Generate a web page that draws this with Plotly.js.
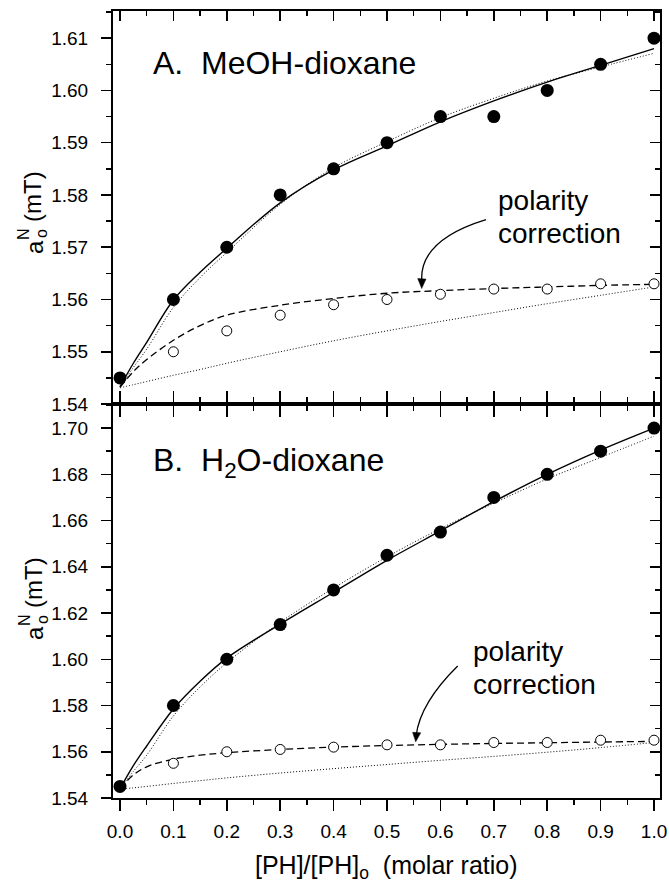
<!DOCTYPE html>
<html><head><meta charset="utf-8">
<script src="https://cdn.plot.ly/plotly-3.0.1.min.js"></script>
<style>html,body{margin:0;padding:0;background:#fff;} #chart{width:669px;height:882px;}</style>
</head><body><div id="chart"></div>
<script>
// ---------- data ----------
const xPoints = [0, 0.1, 0.2, 0.3, 0.4, 0.5, 0.6, 0.7, 0.8, 0.9, 1.0];
const xOpen = [0.1, 0.2, 0.3, 0.4, 0.5, 0.6, 0.7, 0.8, 0.9, 1.0];
const xCurve = [0, 0.025, 0.05, 0.1, 0.15, 0.2, 0.3, 0.4, 0.5, 0.6, 0.7, 0.8, 0.9, 1.0];

// Panel A: MeOH-dioxane
const filledA = [1.545, 1.560, 1.570, 1.580, 1.585, 1.590, 1.595, 1.595, 1.600, 1.605, 1.610];
const openA = [1.550, 1.554, 1.557, 1.559, 1.560, 1.561, 1.562, 1.562, 1.563, 1.563];
const solidA = [1.5433, 1.5478, 1.5518, 1.5599, 1.5652, 1.5698, 1.5785, 1.5848, 1.5894, 1.5940, 1.5980, 1.6016, 1.6048, 1.6080];
const dotUpA = [1.5433, 1.5470, 1.5505, 1.5585, 1.5642, 1.5690, 1.5782, 1.5852, 1.5902, 1.5948, 1.5985, 1.6018, 1.6045, 1.6071];
const dashA = [1.5432, 1.5462, 1.5485, 1.5522, 1.5550, 1.5570, 1.5589, 1.5602, 1.5612, 1.5617, 1.5621, 1.5624, 1.5627, 1.5629];
const dotLowA = [1.5431, 1.5437, 1.5443, 1.5455, 1.5466, 1.5478, 1.5500, 1.5521, 1.5540, 1.5558, 1.5575, 1.5592, 1.5608, 1.5624];

// Panel B: H2O-dioxane
const filledB = [1.545, 1.580, 1.600, 1.615, 1.630, 1.645, 1.655, 1.670, 1.680, 1.690, 1.700];
const openB = [1.555, 1.560, 1.561, 1.562, 1.563, 1.563, 1.564, 1.564, 1.565, 1.565];
const solidB = [1.5440, 1.5540, 1.5625, 1.5785, 1.5905, 1.6005, 1.6152, 1.6290, 1.6428, 1.6555, 1.6682, 1.6800, 1.6905, 1.7000];
const dotUpB = [1.5440, 1.5515, 1.5585, 1.5755, 1.5880, 1.5985, 1.6160, 1.6308, 1.6443, 1.6565, 1.6675, 1.6780, 1.6873, 1.6965];
const dashB = [1.5440, 1.5500, 1.5535, 1.5568, 1.5585, 1.5596, 1.5610, 1.5620, 1.5627, 1.5632, 1.5636, 1.5639, 1.5642, 1.5645];
const dotLowB = [1.5438, 1.5444, 1.5450, 1.5463, 1.5475, 1.5487, 1.5508, 1.5527, 1.5545, 1.5563, 1.5580, 1.5598, 1.5618, 1.5640];

const xTickVals = [0, 0.1, 0.2, 0.3, 0.4, 0.5, 0.6, 0.7, 0.8, 0.9, 1.0];
const labelA = "A.  MeOH-dioxane";
const labelB = "B.  H<sub>2</sub>O-dioxane";
const noteLine1 = "polarity";
const noteLine2 = "correction";
const xTitle = "[PH]/[PH]<sub>o</sub>  (molar ratio)";

// ---------- styling ----------
const FONT = "Liberation Sans, Arial, Helvetica, sans-serif";
const W = 669, H = 882, ML = 113, MR = 9, MT = 11, MB = 84;
const PW = W - ML - MR, PH = H - MT - MB;
const px2x = p => (p - ML) / PW;
const py2y = p => (H - MB - p) / PH;
const split = 0.5006;
const xRange = [-0.0131, 1.0112];

function lineTrace(x, y, xa, ya, dash, width) {
  return {x: x, y: y, xaxis: xa, yaxis: ya, mode: 'lines', hoverinfo: 'skip',
    line: {color: '#000', width: width, dash: dash, shape: 'spline', smoothing: 1}};
}
function markerTrace(x, y, xa, ya, filled) {
  return {x: x, y: y, xaxis: xa, yaxis: ya, mode: 'markers', cliponaxis: false, hoverinfo: 'skip',
    marker: filled ? {symbol: 'circle', size: 13, color: '#000', line: {width: 0}}
                   : {symbol: 'circle', size: 10, color: '#fff', line: {color: '#000', width: 1}}};
}
const dotDash = '1px,2px';
const dashDash = '7px,4px';

const traces = [
  lineTrace(xCurve, dotLowA, 'x', 'y', dotDash, 1),
  lineTrace(xCurve, dashA, 'x', 'y', dashDash, 1.3),
  lineTrace(xCurve, dotUpA, 'x', 'y', dotDash, 1),
  lineTrace(xCurve, solidA, 'x', 'y', 'solid', 1.4),
  markerTrace(xOpen, openA, 'x', 'y', false),
  markerTrace(xPoints, filledA, 'x', 'y', true),
  lineTrace(xCurve, dotLowB, 'x2', 'y2', dotDash, 1),
  lineTrace(xCurve, dashB, 'x2', 'y2', dashDash, 1.3),
  lineTrace(xCurve, dotUpB, 'x2', 'y2', dotDash, 1),
  lineTrace(xCurve, solidB, 'x2', 'y2', 'solid', 1.4),
  markerTrace(xOpen, openB, 'x2', 'y2', false),
  markerTrace(xPoints, filledB, 'x2', 'y2', true),
  // helper traces so the mirror axes get drawn
  {x: [null], y: [null], xaxis: 'x3', yaxis: 'y', mode: 'markers', hoverinfo: 'skip'},
  {x: [null], y: [null], xaxis: 'x', yaxis: 'y3', mode: 'markers', hoverinfo: 'skip'},
  {x: [null], y: [null], xaxis: 'x4', yaxis: 'y2', mode: 'markers', hoverinfo: 'skip'},
  {x: [null], y: [null], xaxis: 'x2', yaxis: 'y4', mode: 'markers', hoverinfo: 'skip'}
];

const tickFont = {family: FONT, size: 19, color: '#000'};
function xAxis(extra) {
  return Object.assign({range: xRange, showgrid: false, zeroline: false, showline: true,
    linecolor: '#000', linewidth: 2, ticks: 'outside', ticklen: 11, tickwidth: 1.5, tickcolor: '#000',
    tickmode: 'array', tickvals: xTickVals, tickformat: '.1f', showticklabels: false,
    minor: {dtick: 0.05, tick0: 0, ticks: 'outside', ticklen: 5, tickwidth: 1.5, tickcolor: '#000', showgrid: false},
    tickfont: tickFont, fixedrange: true}, extra);
}
function yAxis(range, dtick, extra) {
  return Object.assign({range: range, showgrid: false, zeroline: false, showline: true,
    linecolor: '#000', linewidth: 2, ticks: 'outside', ticklen: 10, tickwidth: 1.5, tickcolor: '#000',
    tick0: 1.54, dtick: dtick, tickformat: '.2f', showticklabels: true, ticklabelstandoff: 9,
    minor: {dtick: dtick / 2, tick0: 1.54, ticks: 'outside', ticklen: 5, tickwidth: 1.5, tickcolor: '#000', showgrid: false},
    tickfont: tickFont, fixedrange: true}, extra);
}
const rangeA = [1.54, 1.6152];
const rangeB = [1.54, 1.7104];

function ann(text, x, y, size, extra) {
  return Object.assign({text: text, x: x, y: y, showarrow: false, font: {family: FONT, size: size, color: '#000'},
    xanchor: 'center', yanchor: 'middle'}, extra);
}
function yTitle(offset) {
  return [
    ann('a', px2x(34), py2y(247 + offset), 24, {xref: 'paper', yref: 'paper', textangle: -90}),
    ann('N', px2x(24), py2y(234 + offset), 16, {xref: 'paper', yref: 'paper', textangle: -90}),
    ann('o', px2x(42), py2y(234 + offset), 16, {xref: 'paper', yref: 'paper', textangle: -90}),
    ann('(mT)', px2x(33), py2y(197 + offset), 24, {xref: 'paper', yref: 'paper', textangle: -90})
  ];
}

const annotations = [
  ann(labelA, 0.058, 1.6052, 32, {xref: 'x', yref: 'y', xanchor: 'left'}),
  ann(labelB, 0.058, 1.6849, 32, {xref: 'x2', yref: 'y2', xanchor: 'left'}),
  ann(noteLine1, 0.704, 1.5790, 28, {xref: 'x', yref: 'y', xanchor: 'left'}),
  ann(noteLine2, 0.704, 1.5726, 28, {xref: 'x', yref: 'y', xanchor: 'left'}),
  ann(noteLine1, 0.657, 1.6035, 28, {xref: 'x2', yref: 'y2', xanchor: 'left'}),
  ann(noteLine2, 0.657, 1.5889, 28, {xref: 'x2', yref: 'y2', xanchor: 'left'}),
  ann(xTitle, 0.5, py2y(867), 25, {xref: 'paper', yref: 'paper'})
].concat(yTitle(0), yTitle(386));

const shapes = [
  // curved pointers
  {type: 'path', xref: 'x', yref: 'y', path: 'M 0.6854,1.5753 Q 0.561,1.5714 0.565,1.5636',
    line: {color: '#000', width: 1.3}},
  {type: 'path', xref: 'x2', yref: 'y2', path: 'M 0.6324,1.5971 Q 0.5624,1.5812 0.5545,1.5670',
    line: {color: '#000', width: 1.3}},
  // arrowheads
  {type: 'path', xref: 'x', yref: 'y', path: 'M 0.565,1.5621 L 0.5575,1.5640 L 0.5730,1.5639 Z',
    fillcolor: '#000', line: {color: '#000', width: 0.5}},
  {type: 'path', xref: 'x2', yref: 'y2', path: 'M 0.5537,1.5643 L 0.5480,1.5684 L 0.5632,1.5682 Z',
    fillcolor: '#000', line: {color: '#000', width: 0.5}}
];

const layout = {
  width: W, height: H, margin: {l: ML, r: MR, t: MT, b: MB, pad: 0},
  paper_bgcolor: '#fff', plot_bgcolor: '#fff', showlegend: false,
  font: {family: FONT, color: '#000'},
  xaxis: xAxis({anchor: 'y', domain: [0, 1]}),
  yaxis: yAxis(rangeA, 0.01, {anchor: 'x', domain: [split, 1]}),
  xaxis3: xAxis({overlaying: 'x', side: 'top', anchor: 'y', ticks: 'inside', ticklen: 10,
    minor: {dtick: 0.05, tick0: 0, ticks: 'inside', ticklen: 5, tickwidth: 1.5, tickcolor: '#000'}}),
  yaxis3: yAxis(rangeA, 0.01, {overlaying: 'y', side: 'right', anchor: 'x', ticks: 'inside', showticklabels: false,
    minor: {dtick: 0.005, tick0: 1.54, ticks: 'inside', ticklen: 5, tickwidth: 1.5, tickcolor: '#000'}}),
  xaxis2: xAxis({anchor: 'y2', domain: [0, 1], showticklabels: true, ticklabelstandoff: 4}),
  yaxis2: yAxis(rangeB, 0.02, {anchor: 'x2', domain: [0, split]}),
  xaxis4: xAxis({overlaying: 'x2', side: 'top', anchor: 'y2', ticks: 'outside', ticklen: 11}),
  yaxis4: yAxis(rangeB, 0.02, {overlaying: 'y2', side: 'right', anchor: 'x2', ticks: 'inside', showticklabels: false,
    minor: {dtick: 0.01, tick0: 1.54, ticks: 'inside', ticklen: 5, tickwidth: 1.5, tickcolor: '#000'}}),
  annotations: annotations,
  shapes: shapes
};

Plotly.newPlot('chart', traces, layout, {staticPlot: true, displayModeBar: false});
</script></body></html>
